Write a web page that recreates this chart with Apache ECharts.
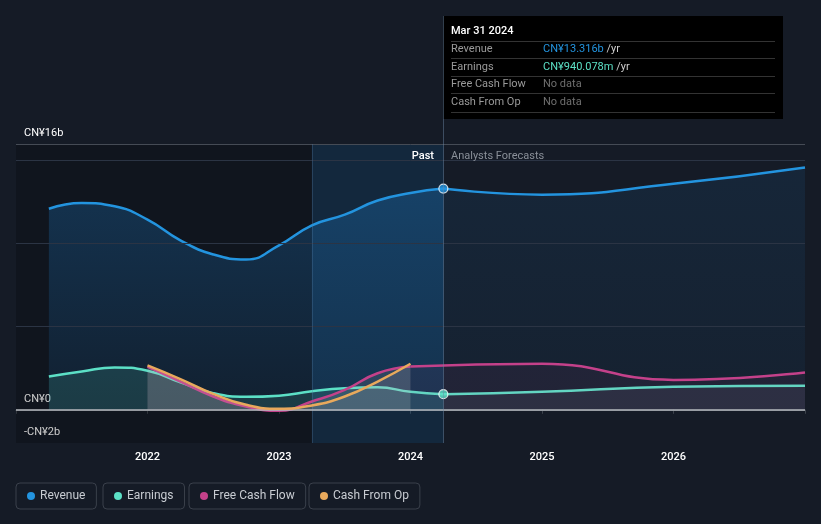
<!DOCTYPE html>
<html><head><meta charset="utf-8">
<script src="https://cdn.jsdelivr.net/npm/echarts@6/dist/echarts.min.js"></script>
<style>html,body{margin:0;padding:0;background:#151b26;}#c{width:821px;height:524px;}</style>
</head><body><div id="c"></div>
<script>
// ---- data (values in CN¥ billions) ----
const pastDates = ['2021-03','2021-06','2021-09','2021-12','2022-03','2022-06','2022-09','2022-12','2023-03','2023-06','2023-09','2023-12','2024-03'];
const revenuePast = [12.1, 12.45, 12.25, 11.45, 10.2, 9.35, 9.05, 9.9, 11.1, 11.75, 12.6, 13.05, 13.316];
const earningsPast = [2.0, 2.3, 2.55, 2.35, 1.65, 1.0, 0.78, 0.85, 1.12, 1.3, 1.35, 1.08, 0.94];
const cashDates = ['2021-12','2022-03','2022-06','2022-09','2022-12','2023-03','2023-06','2023-09','2023-12'];
const fcfPast = [2.6, 1.7, 0.8, 0.2, -0.06, 0.5, 1.2, 2.2, 2.6];
const cfoPast = [2.67, 1.85, 0.96, 0.3, 0.06, 0.26, 0.8, 1.7, 2.77];
const fcDates = ['2024-03','2024-12','2025-12','2026-12'];
const revenueFc = [13.316, 12.95, 13.6, 14.58];
const earningsFc = [0.94, 1.08, 1.39, 1.45];
const fcfFcDates = ['2023-12','2024-12','2025-12','2026-12'];
const fcfFc = [2.6, 2.77, 1.8, 2.25];
const yearTicks = [2022, 2023, 2024, 2025, 2026];
const yLabels = {16: 'CN¥16b', 0: 'CN¥0', '-2': '-CN¥2b'};
const gridValues = [5, 10, 15];
const tipDate = 'Mar 31 2024';
const tipRows = [
  ['Revenue', 'CN¥13.316b', '#2394df'],
  ['Earnings', 'CN¥940.078m', '#5ce0c6'],
  ['Free Cash Flow', null, null],
  ['Cash From Op', null, null]
];

function toX(d){ const [y,m] = d.split('-').map(Number); return y + m/12; }
function pairs(dates, vals){ return dates.map((d,i)=>[toX(d), vals[i]]); }

const C_REV = '#2394df', C_EARN = '#5ce0c6', C_FCF = '#c4418a', C_CFO = '#e8a95c';
const FONT = 'Roboto, sans-serif';
const nowX = toX(pastDates[pastDates.length-1]);
const pastStart = toX('2023-03');
const SM = 0.5;

const chart = echarts.init(document.getElementById('c'));

function grad(c, a1, a2){
  return new echarts.graphic.LinearGradient(0,0,0,1,[{offset:0,color:c.replace('A',a1)},{offset:1,color:c.replace('A',a2)}]);
}

function legend(name, left){
  return {
    data:[name], left:left, top:483, orient:'horizontal',
    icon:'circle', itemWidth:8, itemHeight:8, itemGap:6,
    padding:[7,11,7,11], borderColor:'#3a404b', borderWidth:1, borderRadius:4,
    textStyle:{color:'#c8ccd2', fontSize:12, fontFamily:FONT}
  };
}

const option = {
  backgroundColor:'#151b26',
  animation:false,
  grid:{left:16, right:16, top:144, bottom:81},
  legend:[legend('Revenue',16), legend('Earnings',103), legend('Free Cash Flow',189), legend('Cash From Op',309)],
  xAxis:{
    type:'value', min:2021, max:2027, interval:1,
    axisLine:{show:true, lineStyle:{color:'#3d434c', width:1}},
    axisTick:{show:true, length:4, lineStyle:{color:'#3d434c'}},
    splitLine:{show:false},
    axisLabel:{color:'#ffffff', fontSize:11, fontFamily:FONT, fontWeight:500, margin:9,
      formatter:v=> yearTicks.includes(v) ? String(v) : ''}
  },
  yAxis:{
    type:'value', min:-2, max:16, interval:1,
    axisLine:{show:false}, axisTick:{show:false}, splitLine:{show:false},
    axisLabel:{inside:true, margin:8, color:'#ffffff', fontSize:11, fontFamily:FONT,
      verticalAlign:'bottom', padding:[0,0,5,0],
      formatter:v=> yLabels[v] !== undefined ? yLabels[v] : ''}
  },
  series:[
    { name:'bg', type:'line', data:[], z:0, silent:true, symbol:'none',
      markArea:{silent:true, data:[
        [{xAxis:2021, yAxis:16, itemStyle:{color:'rgba(0,0,0,0.2)'}},{xAxis:pastStart, yAxis:-2}],
        [{xAxis:pastStart, yAxis:16, itemStyle:{color:'rgba(16,97,153,0.2)'}},{xAxis:nowX, yAxis:-2}]
      ]},
      markLine:{silent:true, symbol:'none', label:{show:false},
        data:[
          ...gridValues.map(v=>({yAxis:v, lineStyle:{color:'#2b3444', width:1, type:'solid'}})),
          {yAxis:16, lineStyle:{color:'#454b55', width:1, type:'solid'}},
          {xAxis:pastStart, lineStyle:{color:'rgba(90,130,170,0.3)', width:1, type:'solid'}}
        ]}
    },
    { name:'Revenue', type:'line', data:pairs(pastDates, revenuePast), smooth:SM, symbol:'none', z:2,
      itemStyle:{color:C_REV}, lineStyle:{color:C_REV, width:2.5},
      areaStyle:{color:grad('rgba(33,150,243,A)', 0.33, 0.12)} },
    { name:'Revenue', type:'line', data:pairs(fcDates, revenueFc), smooth:SM, symbol:'none', z:2,
      itemStyle:{color:C_REV}, lineStyle:{color:C_REV, width:2.5},
      areaStyle:{color:grad('rgba(33,150,243,A)', 0.13, 0.07)} },
    { name:'Earnings', type:'line', data:pairs(pastDates, earningsPast), smooth:SM, symbol:'none', z:3,
      itemStyle:{color:C_EARN}, lineStyle:{color:C_EARN, width:2.5},
      areaStyle:{color:'rgba(92,224,198,0.2)'} },
    { name:'Earnings', type:'line', data:pairs(fcDates, earningsFc), smooth:SM, symbol:'none', z:3,
      itemStyle:{color:C_EARN}, lineStyle:{color:C_EARN, width:2.5},
      areaStyle:{color:'rgba(160,175,195,0.13)'} },
    { name:'Free Cash Flow', type:'line', data:pairs(cashDates, fcfPast), smooth:SM, symbol:'none', z:4,
      itemStyle:{color:C_FCF}, lineStyle:{color:C_FCF, width:2.5},
      areaStyle:{color:'rgba(200,180,190,0.2)'} },
    { name:'Free Cash Flow', type:'line', data:pairs(fcfFcDates, fcfFc), smooth:SM, symbol:'none', z:4,
      itemStyle:{color:C_FCF}, lineStyle:{color:C_FCF, width:2.5},
      areaStyle:{color:'rgba(196,65,138,0.1)'} },
    { name:'Cash From Op', type:'line', data:pairs(cashDates, cfoPast), smooth:SM, symbol:'none', z:5,
      itemStyle:{color:C_CFO}, lineStyle:{color:C_CFO, width:2.5},
      areaStyle:{color:'rgba(200,180,190,0.2)'} },
    { name:'zero', type:'line', data:[], z:6, silent:true, symbol:'none',
      markLine:{silent:true, symbol:'none', label:{show:false},
        data:[{yAxis:0, lineStyle:{color:'#b8bcc2', width:1.5, type:'solid'}}]} },
    { name:'now', type:'scatter', z:8, silent:true, symbol:'circle', symbolSize:9,
      data:[
        {value:[nowX, revenuePast[revenuePast.length-1]], itemStyle:{color:C_REV, borderColor:'#fff', borderWidth:1.2}},
        {value:[nowX, earningsPast[earningsPast.length-1]], itemStyle:{color:C_EARN, borderColor:'#fff', borderWidth:1.2}}
      ] }
  ]
};
chart.setOption(option);

const px = Math.round(chart.convertToPixel({xAxisIndex:0}, nowX));
const topY = Math.round(chart.convertToPixel({yAxisIndex:0}, 16));
const botY = Math.round(chart.convertToPixel({yAxisIndex:0}, -2));
const boxTop = 16, boxW = 340, boxH = 103;
const tipEls = [
  {type:'rect', shape:{x:0, y:0, width:boxW, height:boxH}, style:{fill:'#000'}},
  {type:'text', x:8, y:15, style:{text:tipDate, fill:'#fff', fontSize:11, fontWeight:500, fontFamily:FONT, verticalAlign:'middle'}}
];
const sepYs = [25, 42, 60, 77, 96];
sepYs.forEach(y=>tipEls.push({type:'line', shape:{x1:8, y1:y+0.5, x2:332, y2:y+0.5}, style:{stroke:'#333', lineWidth:1}}));
const rowYs = [33, 51, 68, 86];
tipRows.forEach((r,i)=>{
  tipEls.push({type:'text', x:8, y:rowYs[i], style:{text:r[0], fill:'#9a9a9a', fontSize:11, fontFamily:FONT, verticalAlign:'middle'}});
  if (r[1]) {
    tipEls.push({type:'text', x:100, y:rowYs[i], style:{text:'{v|'+r[1]+'} {u|/yr}', verticalAlign:'middle', fontFamily:FONT, fontSize:11,
      rich:{v:{fill:r[2], fontSize:11, fontFamily:FONT}, u:{fill:'#cfcfcf', fontSize:11, fontFamily:FONT}}}});
  } else {
    tipEls.push({type:'text', x:100, y:rowYs[i], style:{text:'No data', fill:'#6f6f6f', fontSize:11, fontFamily:FONT, verticalAlign:'middle'}});
  }
});
chart.setOption({graphic:[
  {type:'line', shape:{x1:px+0.5, y1:boxTop, x2:px+0.5, y2:botY}, style:{stroke:'rgba(110,140,170,0.45)', lineWidth:1}, z:10},
  {type:'group', x:px, y:boxTop, children:tipEls, z:20},
  {type:'text', x:px-9, y:topY+12, style:{text:'Past', fill:'#ffffff', fontSize:11, fontWeight:500, fontFamily:FONT, align:'right', verticalAlign:'middle'}, z:20},
  {type:'text', x:px+8, y:topY+12, style:{text:'Analysts Forecasts', fill:'#8a9099', fontSize:11, fontFamily:FONT, align:'left', verticalAlign:'middle'}, z:20}
]});
</script></body></html>
